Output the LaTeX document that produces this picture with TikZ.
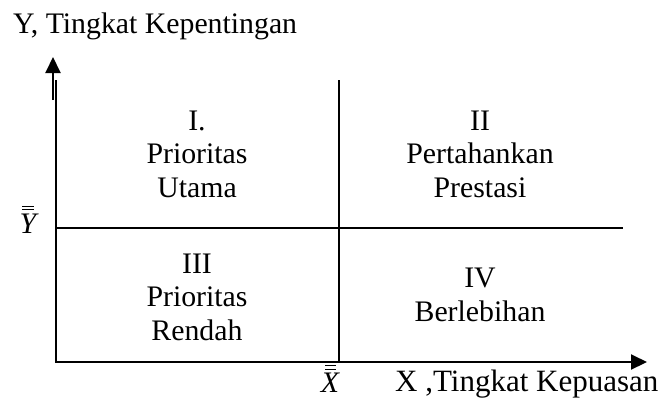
\documentclass[tikz,border=0pt]{standalone}
\usepackage{fontspec}
\setmainfont{Liberation Serif}
\usetikzlibrary{arrows.meta}
\tikzset{
  axisline/.style={line width=2pt},
  barline/.style={line width=1pt},
  lbl/.style={font=\fontsize{29.8}{33}\selectfont, inner sep=0pt, anchor=base},
  lblw/.style={lbl, anchor=base west},
  tip/.style={-{Triangle[length=16pt,width=15pt]}}
}
\begin{document}
\begin{tikzpicture}[x=1pt,y=-1pt]
\useasboundingbox (0,0) rectangle (668,397);
% grid coordinates
\coordinate (o) at (56,362);
\coordinate (ytop) at (56,80);
\coordinate (xend) at (647,362);
\coordinate (mtop) at (339,80);
\coordinate (mbot) at (339,362);
\coordinate (hl) at (56,228);
\coordinate (hr) at (623,228);
\coordinate (ya) at (53,100);
\coordinate (yb) at (53,57);
% lines
\draw[axisline] (ytop) -- (o);
\draw[axisline,tip] (ya) -- (yb);
\draw[axisline,tip] ([xshift=-1pt]o) -- (xend);
\draw[axisline] (mtop) -- (mbot);
\draw[axisline] (hl) -- (hr);
% labels
\node[lblw] (ytitle) at (13,33) {Y, Tingkat Kepentingan};
\node[lbl] (ybar) at (28,233) {\itshape Y};
\draw[barline] (22,206) -- (34,206) (22,209.5) -- (34,209.5);
\node[lbl] (xbar) at (330,392) {\itshape X};
\draw[barline] (325,365.5) -- (336,365.5) (325,369) -- (336,369);
\node[lblw, font=\fontsize{31}{33}\selectfont] (xtitle) at (395,391) {X ,Tingkat Kepuasan};
% quadrant I
\node[lbl] (q1a) at (197,130) {I.};
\node[lbl] (q1b) at (197,163) {Prioritas};
\node[lbl] (q1c) at (197,197) {Utama};
% quadrant II
\node[lbl] (q2a) at (480,130) {II};
\node[lbl] (q2b) at (480,163) {Pertahankan};
\node[lbl] (q2c) at (480,197) {Prestasi};
% quadrant III
\node[lbl] (q3a) at (197,273) {III};
\node[lbl] (q3b) at (197,306) {Prioritas};
\node[lbl] (q3c) at (197,340) {Rendah};
% quadrant IV
\node[lbl] (q4a) at (480,287) {IV};
\node[lbl] (q4b) at (480,321) {Berlebihan};
\end{tikzpicture}
\end{document}
